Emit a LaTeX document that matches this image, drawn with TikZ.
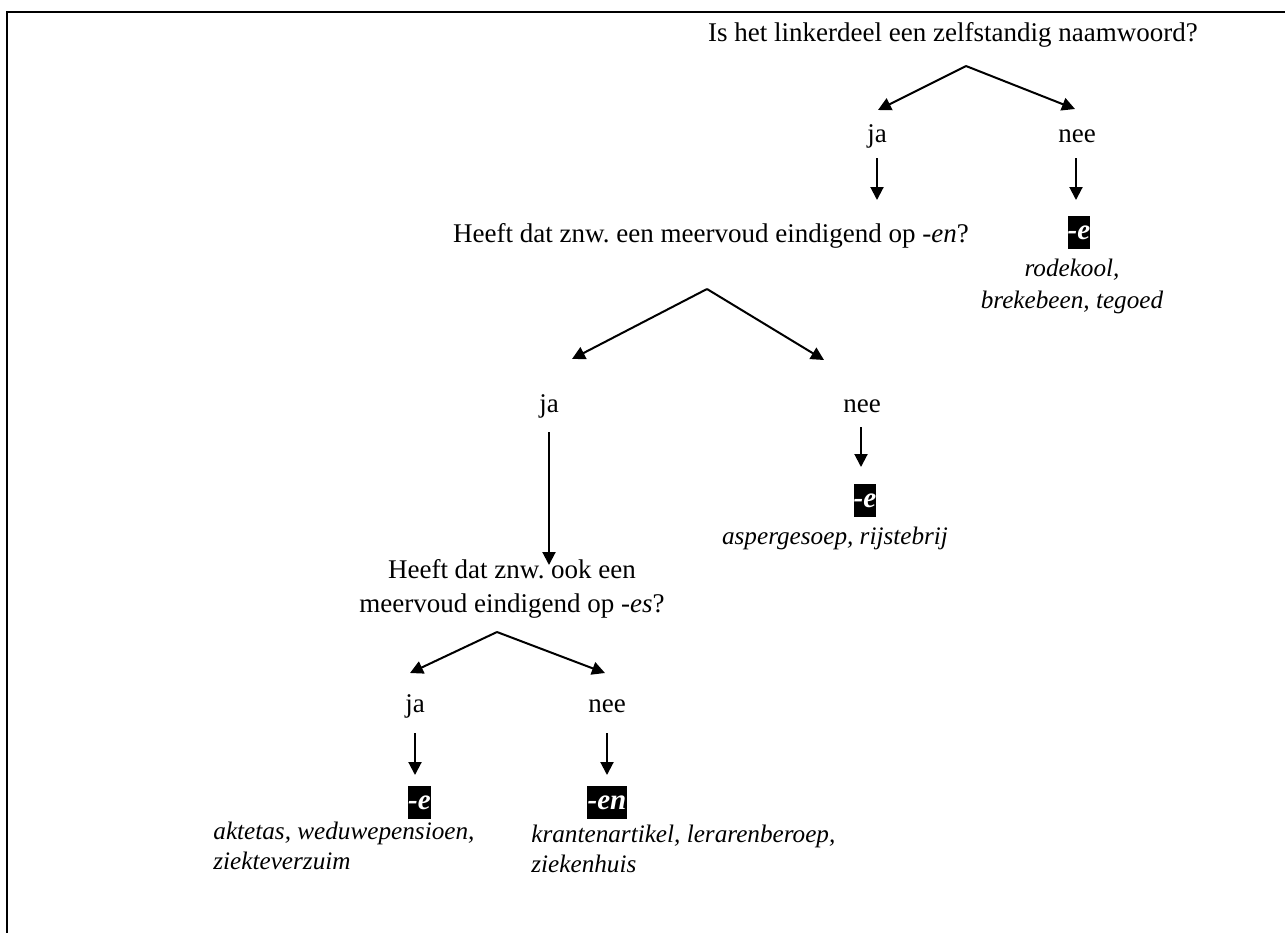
\documentclass[tikz,border=0pt]{standalone}
\usepackage{fontspec}
\setmainfont{Liberation Serif}
\usetikzlibrary{arrows.meta}
\begin{document}
\frenchspacing
\begin{tikzpicture}[x=0.5pt,y=-0.5pt,
  txt/.style={anchor=base,inner sep=0pt,font=\fontsize{13.5}{17}\selectfont},
  ex/.style={anchor=base,inner sep=0pt,font=\fontsize{12.6}{15}\selectfont\itshape},
  suf/.style={fill=black,text=white,inner sep=0pt,minimum height=16.5pt,
    font=\fontsize{14.5}{15}\selectfont\bfseries\itshape},
  arr/.style={line width=1pt,-{Triangle[length=6.5pt,width=6.5pt]}},
  frame/.style={line width=1pt}]
\useasboundingbox (0,0) rectangle (1285,933);
\coordinate (ftr) at (1285,12);
\coordinate (fc) at (7,12);
\coordinate (fbl) at (7,933);
\draw[frame] (ftr) -- (fc) -- (fbl);

% level 1
\node[txt] (q1) at (953,41) {Is het linkerdeel een zelfstandig naamwoord?};
\coordinate (a1) at (966,66);
\coordinate (l1) at (878,110);
\coordinate (r1) at (1075,109);
\draw[arr] (a1) -- (l1);
\draw[arr] (a1) -- (r1);
\node[txt] (ja1) at (877,142) {ja};
\node[txt] (nee1) at (1077,142) {nee};
\coordinate (ja1s) at (877,158);
\coordinate (ja1e) at (877,200);
\coordinate (nee1s) at (1076,158);
\coordinate (nee1e) at (1076,200);
\draw[arr] (ja1s) -- (ja1e);
\draw[arr] (nee1s) -- (nee1e);
\node[suf,minimum width=11pt] (e1) at (1079,232.5) {-e};
\node[ex,align=center,font=\fontsize{12.6}{16}\selectfont\itshape] (ex1) at (1072,308) {rodekool,\\brekebeen, tegoed};

% level 2
\node[txt] (q2) at (711,242) {Heeft dat znw. een meervoud eindigend op \textit{-en}?};
\coordinate (a2) at (707,289);
\coordinate (l2) at (572,359);
\coordinate (r2) at (824,360);
\draw[arr] (a2) -- (l2);
\draw[arr] (a2) -- (r2);
\node[txt] (ja2) at (549,412) {ja};
\node[txt] (nee2) at (862,412) {nee};
\coordinate (ja2s) at (549,432);
\coordinate (ja2e) at (549,565);
\coordinate (nee2s) at (861,427);
\coordinate (nee2e) at (861,467);
\draw[arr] (ja2s) -- (ja2e);
\draw[arr] (nee2s) -- (nee2e);
\node[suf,minimum width=11pt] (e2) at (865,500.5) {-e};
\node[ex] (ex2) at (835,544) {aspergesoep, rijstebrij};

% level 3
\node[txt,align=center] (q3) at (512,612) {Heeft dat znw. ook een\\meervoud eindigend op \textit{-es}?};
\coordinate (a3) at (497,632);
\coordinate (l3) at (410,673);
\coordinate (r3) at (605,673);
\draw[arr] (a3) -- (l3);
\draw[arr] (a3) -- (r3);
\node[txt] (ja3) at (415,712) {ja};
\node[txt] (nee3) at (607,712) {nee};
\coordinate (ja3s) at (415,733);
\coordinate (ja3e) at (415,775);
\coordinate (nee3s) at (607,733);
\coordinate (nee3e) at (607,775);
\draw[arr] (ja3s) -- (ja3e);
\draw[arr] (nee3s) -- (nee3e);
\node[suf,minimum width=11pt] (e3) at (419.5,802.5) {-e};
\node[suf,minimum width=20pt] (en3) at (607,802.5) {-en};
\node[ex,align=left,anchor=base west] (ex3) at (213,869) {aktetas, weduwepensioen,\\ziekteverzuim};
\node[ex,align=left,anchor=base west] (ex4) at (531,872) {krantenartikel, lerarenberoep,\\ziekenhuis};
\end{tikzpicture}
\end{document}
